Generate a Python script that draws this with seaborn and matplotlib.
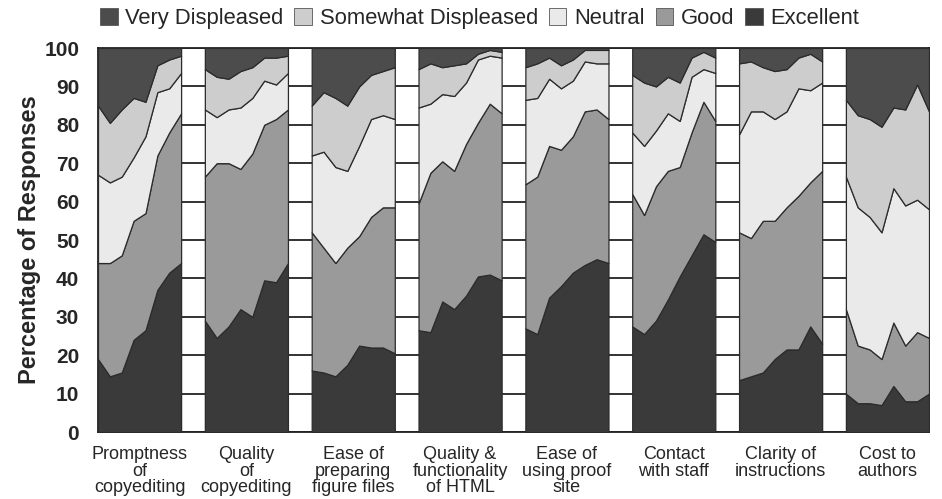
import numpy as np
import pandas as pd
import matplotlib
matplotlib.use("Agg")
import matplotlib.pyplot as plt
from matplotlib.patches import Patch
import seaborn as sns

sns.set_style("white")
plt.rcParams['font.family'] = ['Liberation Sans', 'DejaVu Sans']

# ---------------------
# Data (percent of responses, 8 survey points per question)
# ---------------------
questions = [
    "Promptness\nof\ncopyediting",
    "Quality\nof\ncopyediting",
    "Ease of\npreparing\nfigure files",
    "Quality &\nfunctionality\nof HTML",
    "Ease of\nusing proof\nsite",
    "Contact\nwith staff",
    "Clarity of\ninstructions",
    "Cost to\nauthors",
]
series = ["Very Displeased", "Somewhat Displeased", "Neutral", "Good", "Excellent"]

excellent = [
    [19, 14.5, 15.5, 24, 26.5, 37, 41.5, 44],
    [29, 24.5, 27.5, 32, 30, 39.5, 39, 44],
    [16, 15.5, 14.5, 17.5, 22.5, 22, 22, 20.5],
    [26.5, 26, 34, 32, 35.5, 40.5, 41, 39.5],
    [27, 25.5, 35, 38, 41.5, 43.5, 45, 44],
    [27.5, 25.5, 29, 34.5, 40.5, 46, 51.5, 49.5],
    [13.5, 14.5, 15.5, 19, 21.5, 21.5, 27.5, 23],
    [10, 7.5, 7.5, 7, 12, 8, 8, 10],
]
good = [
    [25, 29.5, 30.5, 31, 30.5, 35, 36.5, 39],
    [37.5, 45.5, 42.5, 36.5, 42.5, 40.5, 42.5, 40],
    [36, 32.5, 29.5, 30.5, 28.5, 34, 36.5, 38],
    [33, 41.5, 36.5, 36, 39.5, 40, 44.5, 43.5],
    [37.5, 41, 39.5, 35.5, 35.5, 40, 39, 37.5],
    [34.5, 31, 35, 33.5, 28.5, 32, 34.5, 31.5],
    [38.5, 36, 39.5, 36, 37, 40, 37.5, 45],
    [22, 15, 14, 12, 16.5, 14.5, 18, 14.5],
]
neutral = [
    [23, 21, 20.5, 16.5, 20, 16.5, 11.5, 10.5],
    [17.5, 12, 14, 16, 14.5, 11.5, 9, 9.5],
    [20, 25, 25, 20, 23.5, 25.5, 24, 23],
    [25, 18, 17.5, 19.5, 16, 16.5, 12.5, 14.5],
    [22, 20.5, 17.5, 16, 14.5, 13, 12, 14.5],
    [16, 18, 14.5, 15, 12, 14.5, 8.5, 12.5],
    [25.5, 33, 28.5, 26.5, 25, 28, 24, 23],
    [34.5, 36, 34.5, 33, 35, 36.5, 34.5, 33.5],
]
somewhat = [
    [18, 15.5, 17.5, 15.5, 9, 7, 7.5, 4.5],
    [10.5, 10.5, 8, 9.5, 8, 6, 7, 4.5],
    [13, 15.5, 18, 17, 15.5, 11.5, 11.5, 13.5],
    [10, 10.5, 7, 8, 5, 1.5, 1.5, 1.5],
    [8.5, 9, 5.5, 6, 5.5, 3, 3.5, 3.5],
    [15, 16.5, 11.5, 9.5, 10, 5, 4.5, 4],
    [18.5, 13, 11.5, 12.5, 11, 8, 9.5, 5.5],
    [20, 24, 25.5, 27.5, 21, 25, 30, 25.5],
]
very = [
    [15, 19.5, 16, 13, 14, 4.5, 3, 2],
    [5.5, 7.5, 8, 6, 5, 2.5, 2.5, 2],
    [15, 11.5, 13, 15, 10, 7, 6, 5],
    [5.5, 4, 5, 4.5, 4, 1.5, 0.5, 1],
    [5, 4, 2.5, 4.5, 3, 0.5, 0.5, 0.5],
    [7, 9, 10, 7.5, 9, 2.5, 1, 2.5],
    [4, 3.5, 5, 6, 5.5, 2.5, 1.5, 3.5],
    [13.5, 17.5, 18.5, 20.5, 15.5, 16, 9.5, 16.5],
]

colors = {
    "Very Displeased": "#4c4c4c",
    "Somewhat Displeased": "#cdcdcd",
    "Neutral": "#eaeaea",
    "Good": "#9a9a9a",
    "Excellent": "#3a3a3a",
}

# long-form table
rows = []
for g, q in enumerate(questions):
    for j in range(8):
        for name, vals in zip(series, [very, somewhat, neutral, good, excellent]):
            rows.append({"question": q, "group": g, "point": j, "series": name,
                         "value": vals[g][j]})
df = pd.DataFrame(rows)

# ---------------------
# Plot
# ---------------------
fig = plt.figure(figsize=(9.42, 4.99), dpi=100)
ax = fig.add_axes([98 / 942, 1 - 432 / 499, 831 / 942, 384 / 499])

stack_order = ["Excellent", "Good", "Neutral", "Somewhat Displeased", "Very Displeased"]
period = 9
for g in range(len(questions)):
    sub = df[df["group"] == g].pivot(index="point", columns="series", values="value")
    x = g * period + sub.index.values
    ax.stackplot(x, [sub[s].values for s in stack_order],
                 colors=[colors[s] for s in stack_order],
                 edgecolor="#2b2b2b", linewidth=0.9, zorder=3)

ax.set_xlim(0, 8 * period - 2)
ax.set_ylim(0, 100)
ax.set_yticks(range(0, 101, 10))
ax.yaxis.grid(True, color="#222222", linewidth=1.3)
ax.xaxis.grid(False)
ax.set_axisbelow(True)

ax.set_xticks([g * period + 3.5 for g in range(len(questions))])
ax.set_xticklabels(questions, fontsize=13, linespacing=0.98)
ax.tick_params(axis="x", length=0, pad=10)
ax.tick_params(axis="y", length=0, pad=13.5, labelsize=15)
for lab in ax.get_yticklabels():
    lab.set_fontweight("bold")

ax.set_ylabel("Percentage of Responses", fontsize=17, fontweight="bold")
ax.yaxis.set_label_coords(-0.068, 0.5)

for sp in ax.spines.values():
    sp.set_visible(True)
    sp.set_color("#222222")
    sp.set_linewidth(1.3)

handles = [Patch(facecolor=colors[s], edgecolor="#555555", linewidth=0.6) for s in series]
fig.legend(handles, series, loc="upper left", bbox_to_anchor=(100 / 942, 1 - 8 / 499),
           ncol=5, frameon=False, fontsize=15.8, handlelength=0.8, handleheight=0.8,
           handletextpad=0.35, columnspacing=0.5, borderpad=0, borderaxespad=0)

fig.savefig("out.png", dpi=100, facecolor="white")
